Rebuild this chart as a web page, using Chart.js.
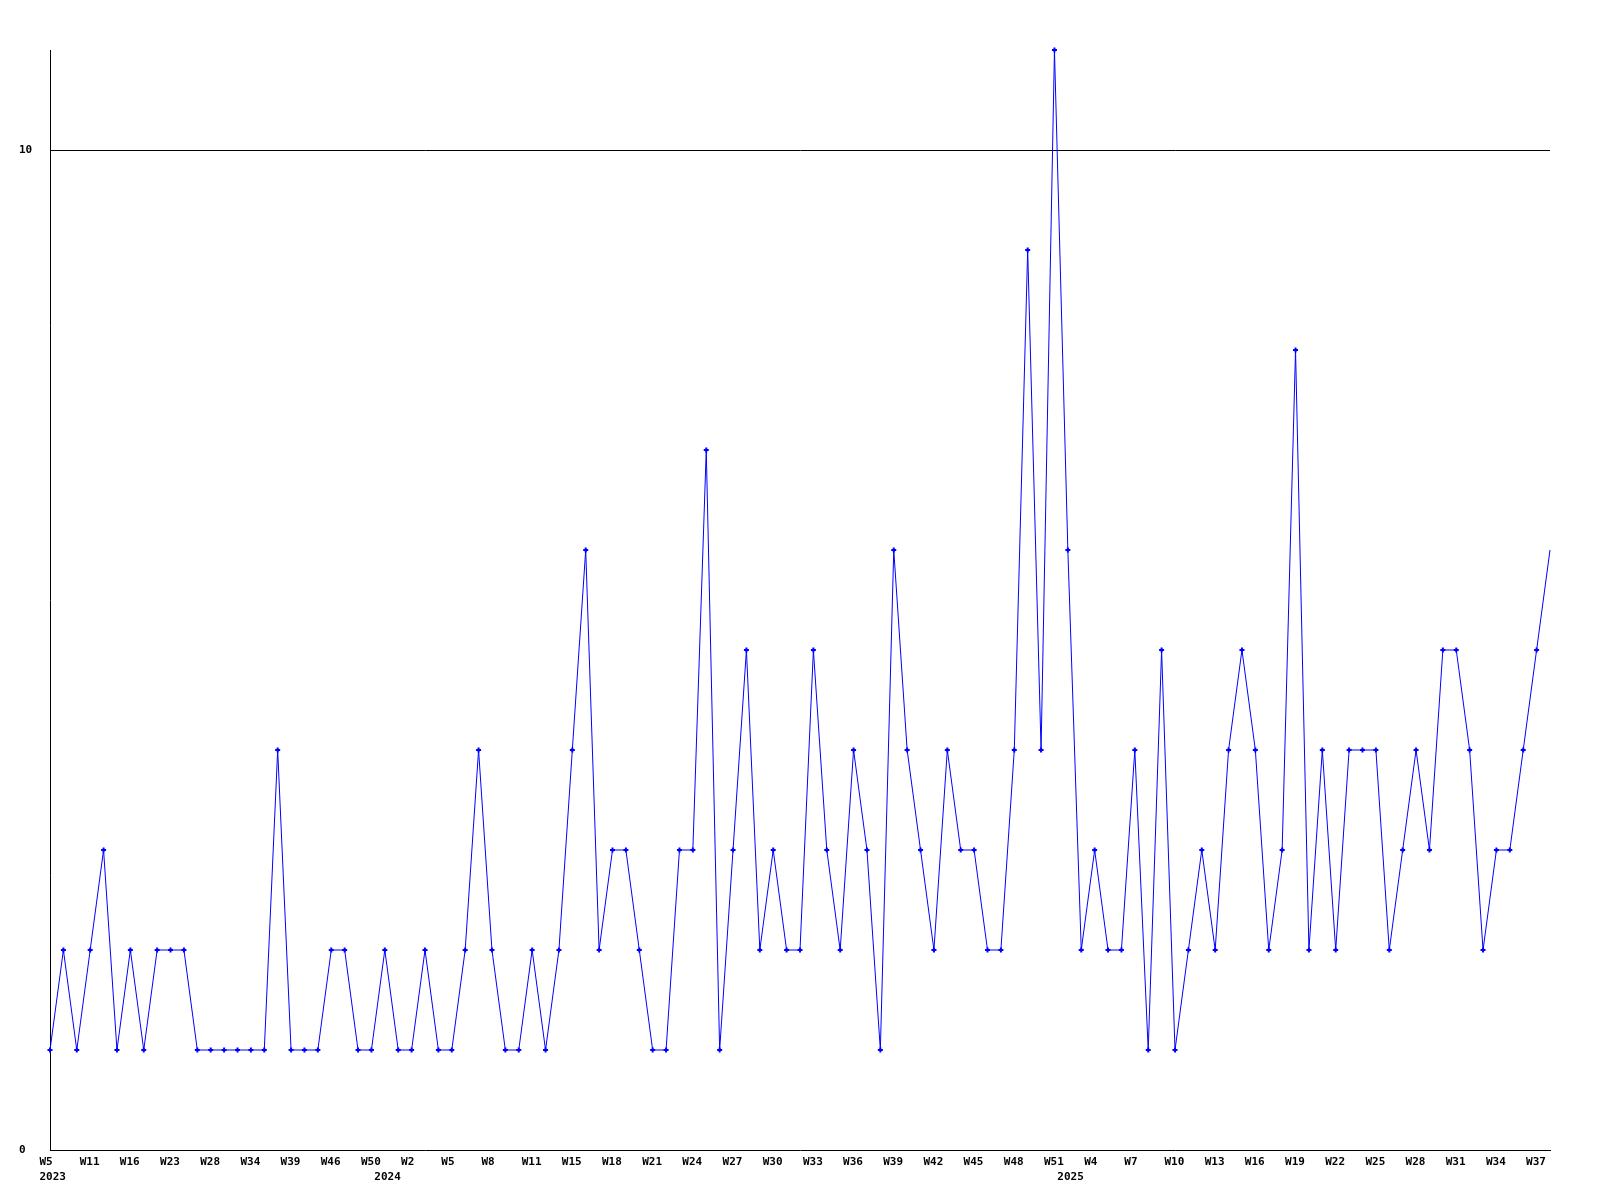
<!DOCTYPE html>
<html>
<head>
<meta charset="utf-8">
<style>
  html, body { margin: 0; padding: 0; background: #ffffff; }
  #wrap { width: 1600px; height: 1200px; position: relative; }
</style>
<script src="https://cdn.jsdelivr.net/npm/chart.js@4/dist/chart.umd.min.js"></script>
</head>
<body>
<div id="wrap"><canvas id="c" width="1600" height="1200"></canvas></div>
<script>
// ---- data ----
const weekLabels = [
  'W5','W7','W9','W11','W13','W14','W16','W18','W20','W23','W25','W26','W28','W30','W32','W34','W35','W37','W39','W41','W44','W46','W48','W49','W50','W52',
  'W1','W2','W3','W4','W5','W6','W7','W8','W9','W10','W11','W12','W13','W15','W16','W17','W18','W19','W20','W21','W22','W23','W24','W25','W26','W27','W28','W29','W30','W31','W32','W33','W34','W35','W36','W37','W38','W39','W40','W41','W42','W43','W44','W45','W46','W47','W48','W49','W50','W51',
  'W1','W3','W4','W5','W6','W7','W8','W9','W10','W11','W12','W13','W14','W15','W16','W17','W18','W19','W20','W21','W22','W23','W24','W25','W26','W27','W28','W29','W30','W31','W32','W33','W34','W35','W36','W37','W38'
];
const yearMarks = { 0: '2023', 25: '2024', 76: '2025' };
const counts = [
  1,2,1,2,3,1,2,1,2,2,2,1,1,1,1,1,1,4,1,1,
  1,2,2,1,1,2,1,1,2,1,1,2,4,2,1,1,2,1,2,4,
  6,2,3,3,2,1,1,3,3,7,1,3,5,2,3,2,2,5,3,2,
  4,3,1,6,4,3,2,4,3,3,2,2,4,9,4,11,6,2,3,2,
  2,4,1,5,1,2,3,2,4,5,4,2,3,8,2,4,2,4,4,4,
  2,3,4,3,5,5,4,2,3,3,4,5,6
];
const yTicks = [0, 10];
const labelEvery = 3;

// ---- chart ----
const tickFont = { family: 'DejaVu Sans Mono', size: 11, weight: 'bold', lineHeight: 1.35 };

new Chart(document.getElementById('c'), {
  type: 'line',
  data: {
    labels: weekLabels,
    datasets: [{
      data: counts,
      borderColor: '#0000ff',
      backgroundColor: '#0000ff',
      borderWidth: 1,
      tension: 0,
      fill: false,
      clip: false,
      pointStyle: 'cross',
      pointRadius: ctx => (ctx.dataIndex === counts.length - 1 ? 0 : 2.5),
      pointBorderWidth: 2,
      pointBorderColor: '#0000ff',
      pointBackgroundColor: '#0000ff'
    }]
  },
  options: {
    responsive: false,
    animation: false,
    devicePixelRatio: 1,
    layout: { padding: { left: 19, right: 50, top: 50, bottom: 0 } },
    plugins: { legend: { display: false }, tooltip: { enabled: false } },
    scales: {
      x: {
        type: 'category',
        offset: false,
        grid: { display: false, drawTicks: false },
        border: { display: true, color: '#000000', width: 1 },
        ticks: {
          autoSkip: false,
          maxRotation: 0,
          minRotation: 0,
          align: 'start',
          labelOffset: -10.5,
          padding: 5,
          color: '#000000',
          font: tickFont,
          callback: function (v, i) {
            const wk = (i % labelEvery === 0) ? weekLabels[i] : '';
            const yr = yearMarks[i];
            return yr ? [wk, yr] : wk;
          }
        },
        afterFit: s => { s.height = 50; }
      },
      y: {
        min: 0,
        max: 11,
        afterBuildTicks: s => { s.ticks = yTicks.map(v => ({ value: v })); },
        grid: {
          drawTicks: false,
          lineWidth: 1,
          color: ctx => (ctx.tick && ctx.tick.value === 10 ? '#000000' : 'rgba(0,0,0,0)')
        },
        border: { display: true, color: '#000000', width: 1 },
        ticks: {
          crossAlign: 'far',
          padding: 0,
          color: '#000000',
          font: tickFont
        },
        afterFit: s => { s.width = 31; }
      }
    }
  }
});
</script>
</body>
</html>
